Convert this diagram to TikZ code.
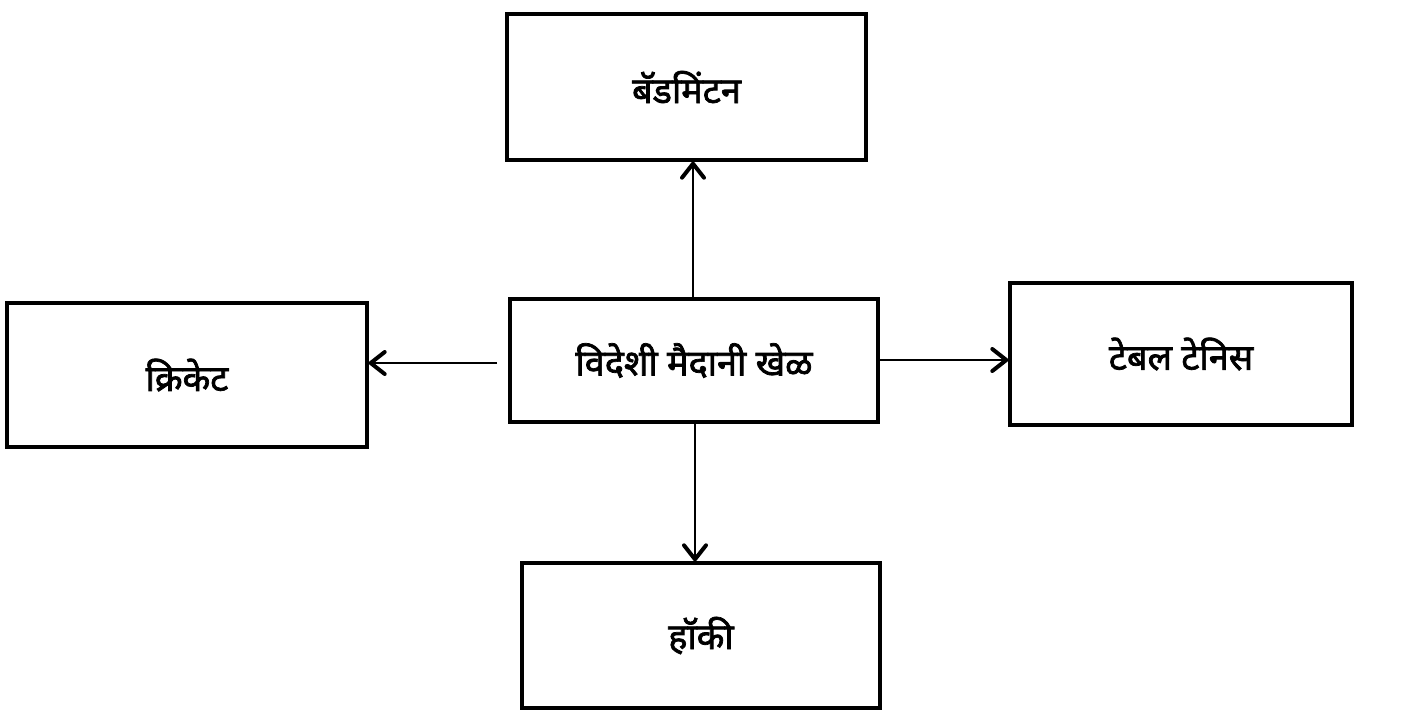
\documentclass[tikz,border=0pt]{standalone}
\usepackage{fontspec}
\newfontfamily\deva[Script=Devanagari,FakeBold=2]{Noto Sans}
\usetikzlibrary{arrows.meta}
\tikzset{
  box/.style={draw, line width=3.4pt, rectangle, inner sep=0pt, font=\deva\fontsize{36}{40}\selectfont},
  arr/.style={line width=2.8pt, -{Straight Barb[length=14pt,width=22pt,line width=4pt,round]}}
}
\begin{document}
\begin{tikzpicture}[x=1pt,y=-1pt]
\useasboundingbox (0,0) rectangle (1408,716);
\node[box, minimum width=359pt, minimum height=146pt] (top) at (686.5,87) {बॅडमिंटन};
\node[box, minimum width=368pt, minimum height=123pt] (mid) at (694,360.5) {विदेशी मैदानी खेळ};
\node[box, minimum width=360pt, minimum height=144pt] (left) at (187,375) {क्रिकेट};
\node[box, minimum width=342pt, minimum height=142pt] (right) at (1181,354) {टेबल टेनिस};
\node[box, minimum width=358pt, minimum height=145pt] (bot) at (701,635.5) {हॉकी};
\coordinate (ls) at (497,363);
\draw[arr] (mid.north -| 693,0) -- (top.south -| 693,0);
\draw[arr] (ls) -- (ls -| left.east);
\draw[arr] (mid.east |- 0,360) -- (right.west |- 0,360);
\draw[arr] (mid.south -| 695,0) -- (bot.north -| 695,0);
\end{tikzpicture}
\end{document}
